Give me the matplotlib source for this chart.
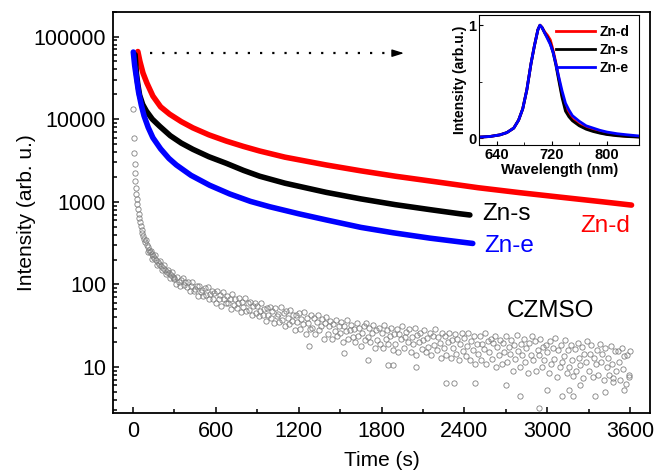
import matplotlib
matplotlib.use('Agg')
import matplotlib.pyplot as plt
import numpy as np
from matplotlib.ticker import FixedLocator, LogLocator, NullFormatter, MultipleLocator

plt.rcParams['font.family'] = ['Liberation Sans', 'DejaVu Sans']

# --- decay curves (time in s, intensity in arb. u.) ---
znd_t = [35, 50, 72, 100, 144, 200, 265, 350, 434, 550, 676, 800, 917, 1100, 1400, 1650,
         1900, 2200, 2500, 2800, 3100, 3400, 3611]
znd_i = [65900, 50100, 36300, 27500, 19050, 14100, 11500, 9330, 7850, 6460, 5430, 4680, 4120,
         3470, 2790, 2370, 2040, 1740, 1480, 1290, 1135, 1000, 912]

zns_t = [15, 25, 35, 48, 70, 96, 140, 193, 270, 350, 434, 550, 676, 800, 917, 1100, 1400,
         1650, 1900, 2150, 2367, 2440]
zns_i = [60300, 35500, 26300, 19500, 15100, 12600, 10000, 8220, 6310, 5130, 4315, 3510, 2920,
         2400, 2040, 1680, 1300, 1084, 923, 804, 716, 692]

zne_t = [2, 12, 25, 40, 60, 80, 110, 144, 200, 260, 314, 420, 555, 700, 850, 990, 1200,
         1400, 1650, 1883, 2150, 2367, 2461]
zne_i = [65000, 44700, 31600, 21400, 14800, 10960, 7940, 5960, 4370, 3350, 2790, 2090, 1585,
         1245, 1012, 871, 716, 603, 490, 422, 363, 327, 313]

# CZMSO reference sample: early decay
cz_early_t = [2, 5, 8, 11, 14, 17, 20, 23, 27, 31, 35, 40, 45, 50, 56, 62, 68, 75, 82, 90,
              98, 106, 115, 124, 134, 144, 155, 166, 178, 190, 203, 216, 230, 244, 258, 272, 286,
              95, 112, 128, 140, 160, 175, 195, 210, 225, 240, 255, 268, 280, 295]
cz_early_i = [13300, 5970, 3940, 2850, 2240, 1800, 1480, 1250, 1080, 930, 820, 720, 640, 570,
              510, 460, 420, 390, 355, 325, 300, 280, 262, 246, 232, 220, 207, 196, 185, 175,
              166, 158, 150, 143, 136, 130, 124,
              340, 250, 255, 205, 225, 170, 190, 150, 170, 135, 150, 120, 140, 115]

# CZMSO noisy tail, one reading every 10 s from 300 s
cz_tail_i = [
    118, 101, 124, 108, 95, 113, 119, 98, 106, 92,
    107, 83, 95, 106, 83, 88, 95, 73, 96, 80,
    86, 72, 91, 74, 92, 66, 77, 83, 67, 78,
    60, 83, 67, 75, 55, 81, 66, 59, 73, 59,
    67, 51, 76, 57, 67, 52, 60, 69, 46, 62,
    53, 69, 47, 59, 49, 62, 42, 54, 60, 45,
    55, 41, 48, 60, 42, 50, 36, 52, 43, 53,
    39, 48, 34, 52, 41, 44, 35, 53, 37, 45,
    31, 47, 39, 33, 49, 36, 42, 28, 43, 35,
    45, 29, 38, 33, 46, 25, 39, 34, 29, 43,
    30, 39, 25, 35, 42, 28, 31, 38, 22, 34,
    40, 25, 31, 36, 22, 33, 27, 37, 24, 31,
    26, 35, 20, 31, 27, 37, 22, 28, 32, 23,
    29, 20, 34, 24, 30, 18, 26, 31, 21, 34,
    23, 30, 20, 26, 32, 17, 28, 21, 30, 19,
    26, 17, 32, 22, 28, 19, 24, 30, 16, 25,
    19, 28.5, 15, 25, 22, 31, 17, 23, 26.5, 20,
    28.5, 15, 23, 19, 29.5, 14, 24.5, 20, 26, 16.5,
    21, 28, 15, 22.5, 17.5, 26, 14, 24, 18.5, 28.5,
    16, 23, 19.5, 13, 25.5, 17, 23.5, 14, 20, 26,
    13, 21, 17, 25, 14.5, 22, 12, 19, 25.5, 15.5,
    22.5, 13.5, 18, 26, 12, 20.5, 16, 23.5, 11, 19,
    14.5, 24, 12, 19, 16.5, 26, 11, 20.5, 15, 22,
    12.5, 19.5, 23.5, 10, 17.5, 14, 21.5, 11, 19.5, 15,
    24, 11.5, 17.5, 14.5, 21.5, 9, 18.5, 12.5, 24.5, 15.5,
    10, 19, 14, 22, 11.5, 17, 8.5, 19.5, 14, 24,
    12, 20.5, 9, 16, 14, 22, 10, 17.5, 12, 18.5,
    15, 8.5, 20.5, 11, 17, 12.5, 22.5, 7.5, 16, 10,
    18.5, 11.5, 13.5, 21, 8.5, 16, 10, 18.5, 12, 7.7,
    16.5, 9, 19.5, 13, 10.5, 17.5, 7.4, 14.5, 11.5, 20.5,
    9, 14.5, 18.5, 7.5, 13, 11, 16, 8, 19, 11.5,
    14.5, 7, 17, 10, 13, 8, 18, 11, 7.3, 15.5,
    9, 15.5, 11.5, 7, 17, 9.5, 13.5, 6.2, 14, 8, 15.5]
cz_tail_t = np.arange(300, 300 + 10 * len(cz_tail_i), 10)

cz_out_t = [1273, 1525, 1700, 1850, 1880, 2050, 2268, 2324, 2474, 2700, 2802, 2939, 2996,
            3105, 3155, 3185, 3240, 3348, 3420, 3480, 3560, 3590]
cz_out_i = [18, 14.6, 12, 10.5, 10.5, 10, 6.4, 6.4, 6.4, 6, 4.4, 3.2, 5.2, 4.4, 5.2, 4.4,
            6, 4.4, 5, 6.5, 5.2, 7.5]

# --- inset PL spectra ---
wl = [615, 630, 645, 655, 665, 672, 678, 684, 690, 695, 700, 703, 706, 710, 714, 718, 722,
      726, 730, 735, 740, 745, 750, 760, 770, 780, 790, 800, 815, 830, 847]
pl_d = [0.01, 0.015, 0.03, 0.05, 0.09, 0.16, 0.26, 0.43, 0.66, 0.82, 0.96, 1.0, 0.98, 0.94,
        0.91, 0.87, 0.78, 0.67, 0.54, 0.38, 0.27, 0.21, 0.17, 0.12, 0.09, 0.07, 0.05, 0.037,
        0.025, 0.017, 0.012]
pl_s = [0.01, 0.015, 0.03, 0.05, 0.09, 0.16, 0.26, 0.43, 0.66, 0.82, 0.96, 1.0, 0.98, 0.93,
        0.89, 0.84, 0.76, 0.65, 0.52, 0.36, 0.24, 0.19, 0.155, 0.11, 0.08, 0.06, 0.045, 0.033,
        0.022, 0.015, 0.01]
pl_e = [0.01, 0.015, 0.03, 0.05, 0.09, 0.16, 0.26, 0.43, 0.66, 0.82, 0.96, 1.0, 0.98, 0.93,
        0.88, 0.83, 0.76, 0.66, 0.55, 0.42, 0.31, 0.25, 0.2, 0.15, 0.11, 0.09, 0.07, 0.055,
        0.04, 0.03, 0.02]

fig = plt.figure(figsize=(6.57, 4.73), dpi=100)
ax = fig.add_axes([0.172, 0.1268, 0.8174, 0.8484])

# gray open circles for CZMSO
mk = dict(marker='o', ls='none', ms=3.8, mfc='none', mec='#808080', mew=0.6)
ax.plot(cz_early_t, cz_early_i, **mk)
ax.plot(cz_tail_t, cz_tail_i, **mk)
ax.plot(cz_out_t, cz_out_i, **mk)

ax.plot(znd_t, znd_i, color='#ff0000', lw=4, solid_capstyle='round')
ax.plot(zns_t, zns_i, color='black', lw=4, solid_capstyle='round')
ax.plot(zne_t, zne_i, color='#0000ff', lw=4, solid_capstyle='round')

# dotted arrow toward the inset
ax.plot([122, 1890], [63000, 63000], color='black', lw=1.6, ls=(0, (1, 4.5)))
ax.annotate('', xy=(1963, 63000), xytext=(1880, 63000),
            arrowprops=dict(arrowstyle='-|>,head_length=0.7,head_width=0.22',
                            color='black', lw=1, shrinkA=0, shrinkB=0))

ax.text(2705, 711, 'Zn-s', color='black', fontsize=17.5, ha='center', va='center')
ax.text(3418, 514, 'Zn-d', color='#ff0000', fontsize=17.5, ha='center', va='center')
ax.text(2727, 293, 'Zn-e', color='#0000ff', fontsize=17.5, ha='center', va='center')
ax.text(3025, 47, 'CZMSO', color='black', fontsize=17.5, ha='center', va='center')

ax.set_yscale('log')
ax.set_xlim(-145, 3745)
ax.set_ylim(2.77, 2.0e5)
ax.xaxis.set_major_locator(MultipleLocator(600))
ax.xaxis.set_minor_locator(MultipleLocator(300))
ax.yaxis.set_major_locator(FixedLocator([10, 100, 1000, 10000, 100000]))
ax.set_yticklabels(['10', '100', '1000', '10000', '100000'])
ax.yaxis.set_minor_locator(LogLocator(base=10, subs=np.arange(2, 10)))
ax.yaxis.set_minor_formatter(NullFormatter())
ax.tick_params(which='both', direction='in', top=False, right=False, labelsize=15.5, width=1.1)
ax.tick_params(which='major', length=4.5)
ax.tick_params(which='minor', length=2.8)
ax.tick_params(axis='x', pad=6)
ax.tick_params(axis='y', pad=5)
for s in ax.spines.values():
    s.set_linewidth(1.3)
ax.set_xlabel('Time (s)', fontsize=15, labelpad=6)
ax.set_ylabel('Intensity (arb. u.)', fontsize=15, labelpad=-2)

# inset
ins = fig.add_axes([0.7295, 0.6934, 0.2435, 0.2748])
ins.plot(wl, pl_d, color='#ff0000', lw=2, label='Zn-d')
ins.plot(wl, pl_s, color='black', lw=2, label='Zn-s')
ins.plot(wl, pl_e, color='#0000ff', lw=2, label='Zn-e')
ins.set_xlim(615, 847)
ins.set_ylim(-0.06, 1.09)
ins.set_xticks([640, 720, 800])
ins.xaxis.set_minor_locator(FixedLocator([680, 760]))
ins.set_yticks([0, 1])
ins.yaxis.set_minor_locator(FixedLocator([0.5]))
ins.tick_params(which='both', direction='in', top=False, right=False, labelsize=10.5, pad=2)
ins.tick_params(which='major', length=3)
ins.tick_params(which='minor', length=2)
for lab in ins.get_xticklabels() + ins.get_yticklabels():
    lab.set_fontweight('bold')
ins.set_xlabel('Wavelength (nm)', fontsize=10.5, fontweight='bold', labelpad=1)
ins.set_ylabel('Intensity (arb.u.)', fontsize=10, fontweight='bold', labelpad=1)
ins.legend(loc='upper right', frameon=False, prop={'weight': 'bold', 'size': 10},
           handlelength=2.8, handletextpad=0.3, labelspacing=0.3, borderaxespad=0.3)

fig.savefig('out.png', dpi=100)
